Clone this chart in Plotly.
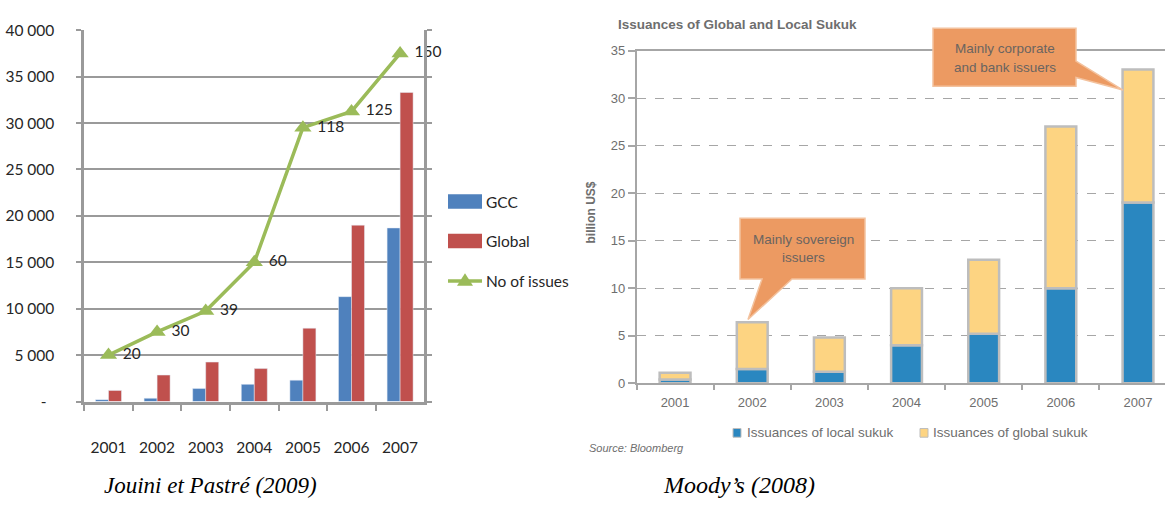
import plotly.graph_objects as go

W, H = 1165, 505

# ---------------- data ----------------
years = ["2001", "2002", "2003", "2004", "2005", "2006", "2007"]
# Left chart (Jouini et Pastré 2009)
gcc = [200, 350, 1400, 1850, 2300, 11300, 18700]
global_issues_amt = [1200, 2850, 4250, 3550, 7900, 19000, 33300]
no_of_issues = [20, 30, 39, 60, 118, 125, 150]
left_tickvals = [0, 5000, 10000, 15000, 20000, 25000, 30000, 35000, 40000]
left_ticktext = ["-\u00a0\u00a0", "5 000", "10 000", "15 000", "20 000",
                 "25 000", "30 000", "35 000", "40 000"]
# Right chart (Moody's 2008), billion US$
local_sukuk = [0.4, 1.5, 1.2, 4.0, 5.2, 10.0, 19.0]
global_sukuk = [0.7, 4.9, 3.6, 6.0, 7.8, 17.0, 14.0]
right_tickvals = [0, 5, 10, 15, 20, 25, 30, 35]

# ---------------- helpers (pixel -> paper) ----------------
def px(x):
    return x / W

def py(y):
    return 1 - y / H

def path(points):
    return "M " + " L ".join(f"{px(x):.5f},{py(y):.5f}" for x, y in points) + " Z"

NARROW = "Lato, sans-serif"
LFS = 15.5
ARIAL = "Liberation Sans, Arial, sans-serif"
BLUE_L, RED_L, GREEN_L = "#4F81BD", "#C0504D", "#9BBB59"
BLUE_R, YEL_R = "#2A87C0", "#FDD482"
GRAY_TXT = "#6E6E6E"
DARK = "#262626"

fig = go.Figure()

# left bars
fig.add_trace(go.Bar(x=years, y=gcc, name="GCC", marker_color=BLUE_L,
                     xaxis="x", yaxis="y"))
fig.add_trace(go.Bar(x=years, y=global_issues_amt, name="Global", marker_color=RED_L,
                     xaxis="x", yaxis="y"))
# left line (secondary axis, ticks hidden) with data labels
fig.add_trace(go.Scatter(x=years, y=no_of_issues, name="No of issues",
                         mode="lines+markers+text", xaxis="x", yaxis="y2",
                         text=["\u00a0" + str(n) for n in no_of_issues],
                         textposition="middle right",
                         textfont=dict(family=NARROW, size=LFS, color=DARK),
                         line=dict(color=GREEN_L, width=3.5),
                         marker=dict(symbol="triangle-up", size=15, color=GREEN_L),
                         cliponaxis=False))
# right stacked bars
fig.add_trace(go.Bar(x=years, y=local_sukuk, name="Issuances of local sukuk",
                     marker=dict(color=BLUE_R, line=dict(color="#BDBDBD", width=2.5)),
                     width=0.4, offsetgroup="r", xaxis="x2", yaxis="y3"))
fig.add_trace(go.Bar(x=years, y=global_sukuk, base=local_sukuk,
                     name="Issuances of global sukuk",
                     marker=dict(color=YEL_R, line=dict(color="#BDBDBD", width=2.5)),
                     width=0.4, offsetgroup="r", xaxis="x2", yaxis="y3"))

annotations = []
shapes = []
# left legend
shapes.append(dict(type="rect", xref="paper", yref="paper", x0=px(448), x1=px(482),
                   y0=py(206), y1=py(191), fillcolor=BLUE_L, line=dict(width=0)))
shapes.append(dict(type="rect", xref="paper", yref="paper", x0=px(448), x1=px(482),
                   y0=py(247), y1=py(232), fillcolor=RED_L, line=dict(width=0)))
shapes.append(dict(type="line", xref="paper", yref="paper", x0=px(448), x1=px(482),
                   y0=py(281), y1=py(281), line=dict(color=GREEN_L, width=3.5)))
shapes.append(dict(type="path", xref="paper", yref="paper",
                   path=path([(457, 286), (473, 286), (465, 273)]),
                   fillcolor=GREEN_L, line=dict(width=0)))
for txt, yy in [("GCC", 199), ("Global", 240), ("No of issues", 281)]:
    annotations.append(dict(x=px(484), y=py(yy), xref="paper", yref="paper", text=txt,
                            showarrow=False, xanchor="left", yanchor="middle",
                            font=dict(family=NARROW, size=LFS, color=DARK)))

# right callouts
CALL_FILL, CALL_LINE = "#EC9A62", "#F3C29E"
shapes.append(dict(type="path", xref="paper", yref="paper",
                   path=path([(740, 216), (865, 216), (865, 279), (792, 279),
                              (748, 321), (762, 279), (740, 279)]),
                   fillcolor=CALL_FILL, line=dict(color=CALL_LINE, width=1.5)))
shapes.append(dict(type="path", xref="paper", yref="paper",
                   path=path([(933, 19), (1076, 19), (1076, 53), (1123, 83),
                              (1076, 70), (1076, 79), (933, 79)]),
                   fillcolor=CALL_FILL, line=dict(color=CALL_LINE, width=1.5)))
for txt, xx, yy in [("Mainly sovereign", 803, 238), ("issuers", 803, 257),
                    ("Mainly corporate", 1005, 40), ("and bank issuers", 1005, 60)]:
    annotations.append(dict(x=px(xx), y=py(yy), xref="paper", yref="paper", text=txt,
                            showarrow=False, xanchor="center", yanchor="middle",
                            font=dict(family=ARIAL, size=13.5, color="#6A6460")))

# right legend
shapes.append(dict(type="rect", xref="paper", yref="paper", x0=px(733), x1=px(741),
                   y0=py(443), y1=py(434), fillcolor=BLUE_R, line=dict(color="#BDBDBD", width=1)))
shapes.append(dict(type="rect", xref="paper", yref="paper", x0=px(920), x1=px(928),
                   y0=py(443), y1=py(434), fillcolor=YEL_R, line=dict(color="#BDBDBD", width=1)))
for txt, xx in [("Issuances of local sukuk", 745), ("Issuances of global sukuk", 931)]:
    annotations.append(dict(x=px(xx), y=py(438), xref="paper", yref="paper", text=txt,
                            showarrow=False, xanchor="left", yanchor="middle",
                            font=dict(family=ARIAL, size=13.5, color=GRAY_TXT)))

# right titles / source
annotations.append(dict(x=px(616), y=py(15), xref="paper", yref="paper",
                        text="<b>Issuances of Global and Local Sukuk</b>",
                        showarrow=False, xanchor="left", yanchor="middle",
                        font=dict(family=ARIAL, size=13.5, color=GRAY_TXT)))
annotations.append(dict(x=px(591), y=py(210), xref="paper", yref="paper",
                        text="<b>billion US$</b>", textangle=-90,
                        showarrow=False, xanchor="center", yanchor="middle",
                        font=dict(family=ARIAL, size=12, color=GRAY_TXT)))
annotations.append(dict(x=px(587), y=py(454), xref="paper", yref="paper",
                        text="<i>Source: Bloomberg</i>",
                        showarrow=False, xanchor="left", yanchor="middle",
                        font=dict(family=ARIAL, size=11, color=GRAY_TXT)))

# captions
SERIF = "Liberation Serif, Times New Roman, serif"
annotations.append(dict(x=px(210), y=py(493), xref="paper", yref="paper",
                        text="<i>Jouini et Pastré (2009)</i>",
                        showarrow=False, xanchor="center", yanchor="middle",
                        font=dict(family=SERIF, size=23, color="#000000")))
annotations.append(dict(x=px(739), y=py(493), xref="paper", yref="paper",
                        text="<i>Moody’s (2008)</i>",
                        showarrow=False, xanchor="center", yanchor="middle",
                        font=dict(family=SERIF, size=24, color="#000000")))

LGRID = "#9A9A9A"
fig.update_layout(
    width=W, height=H,
    margin=dict(l=0, r=0, t=0, b=0),
    paper_bgcolor="white", plot_bgcolor="rgba(0,0,0,0)",
    showlegend=False,
    barmode="group", bargap=0.465, bargroupgap=0,
    xaxis=dict(domain=[px(84.2), px(424.4)], anchor="y", type="category",
               range=[-0.5, 6.5], showline=True, linecolor=LGRID, linewidth=2.5,
               ticks="outside", tickson="boundaries", ticklen=7, tickcolor=LGRID,
               tickwidth=2, showgrid=False, ticklabelstandoff=30, tickangle=0,
               tickfont=dict(family=NARROW, size=LFS, color=DARK)),
    yaxis=dict(domain=[py(406), py(21)], anchor="x", range=[0, 40000],
               tickvals=left_tickvals, ticktext=left_ticktext,
               showline=True, linecolor=LGRID, linewidth=2.5, mirror="ticks",
               ticks="outside", ticklen=5, tickcolor=LGRID, tickwidth=2,
               showgrid=True, gridcolor=LGRID, gridwidth=2, zeroline=False,
               ticklabelstandoff=19,
               tickfont=dict(family=NARROW, size=LFS, color=DARK)),
    yaxis2=dict(overlaying="y", anchor="x", side="right", range=[0, 160],
                showticklabels=False, showgrid=False, showline=False,
                zeroline=False, ticks=""),
    xaxis2=dict(domain=[px(636.5), 1], anchor="y3", type="category",
                range=[-0.5, 6.35], showline=True, linecolor="#A6A6A6", linewidth=1.5,
                mirror=True, ticks="outside", tickson="boundaries", ticklen=5,
                tickcolor="#A6A6A6", tickwidth=1.5, showgrid=False,
                ticklabelstandoff=6, tickangle=0,
                tickfont=dict(family=ARIAL, size=13, color=GRAY_TXT)),
    yaxis3=dict(domain=[py(387), py(42)], anchor="x2", range=[0, 35],
                tickvals=right_tickvals, showline=True, linecolor="#A6A6A6",
                linewidth=1.5, ticks="outside", ticklen=7, tickcolor="#A6A6A6",
                tickwidth=1.5, showgrid=True, gridcolor="#A6A6A6", gridwidth=1.3,
                griddash="dash", zeroline=False,
                tickfont=dict(family=ARIAL, size=13, color=GRAY_TXT)),
    shapes=shapes,
    annotations=annotations,
)

fig.write_html("out.html", config={"displayModeBar": False},
               post_script="document.body.style.margin='0';document.body.style.overflow='hidden';")
